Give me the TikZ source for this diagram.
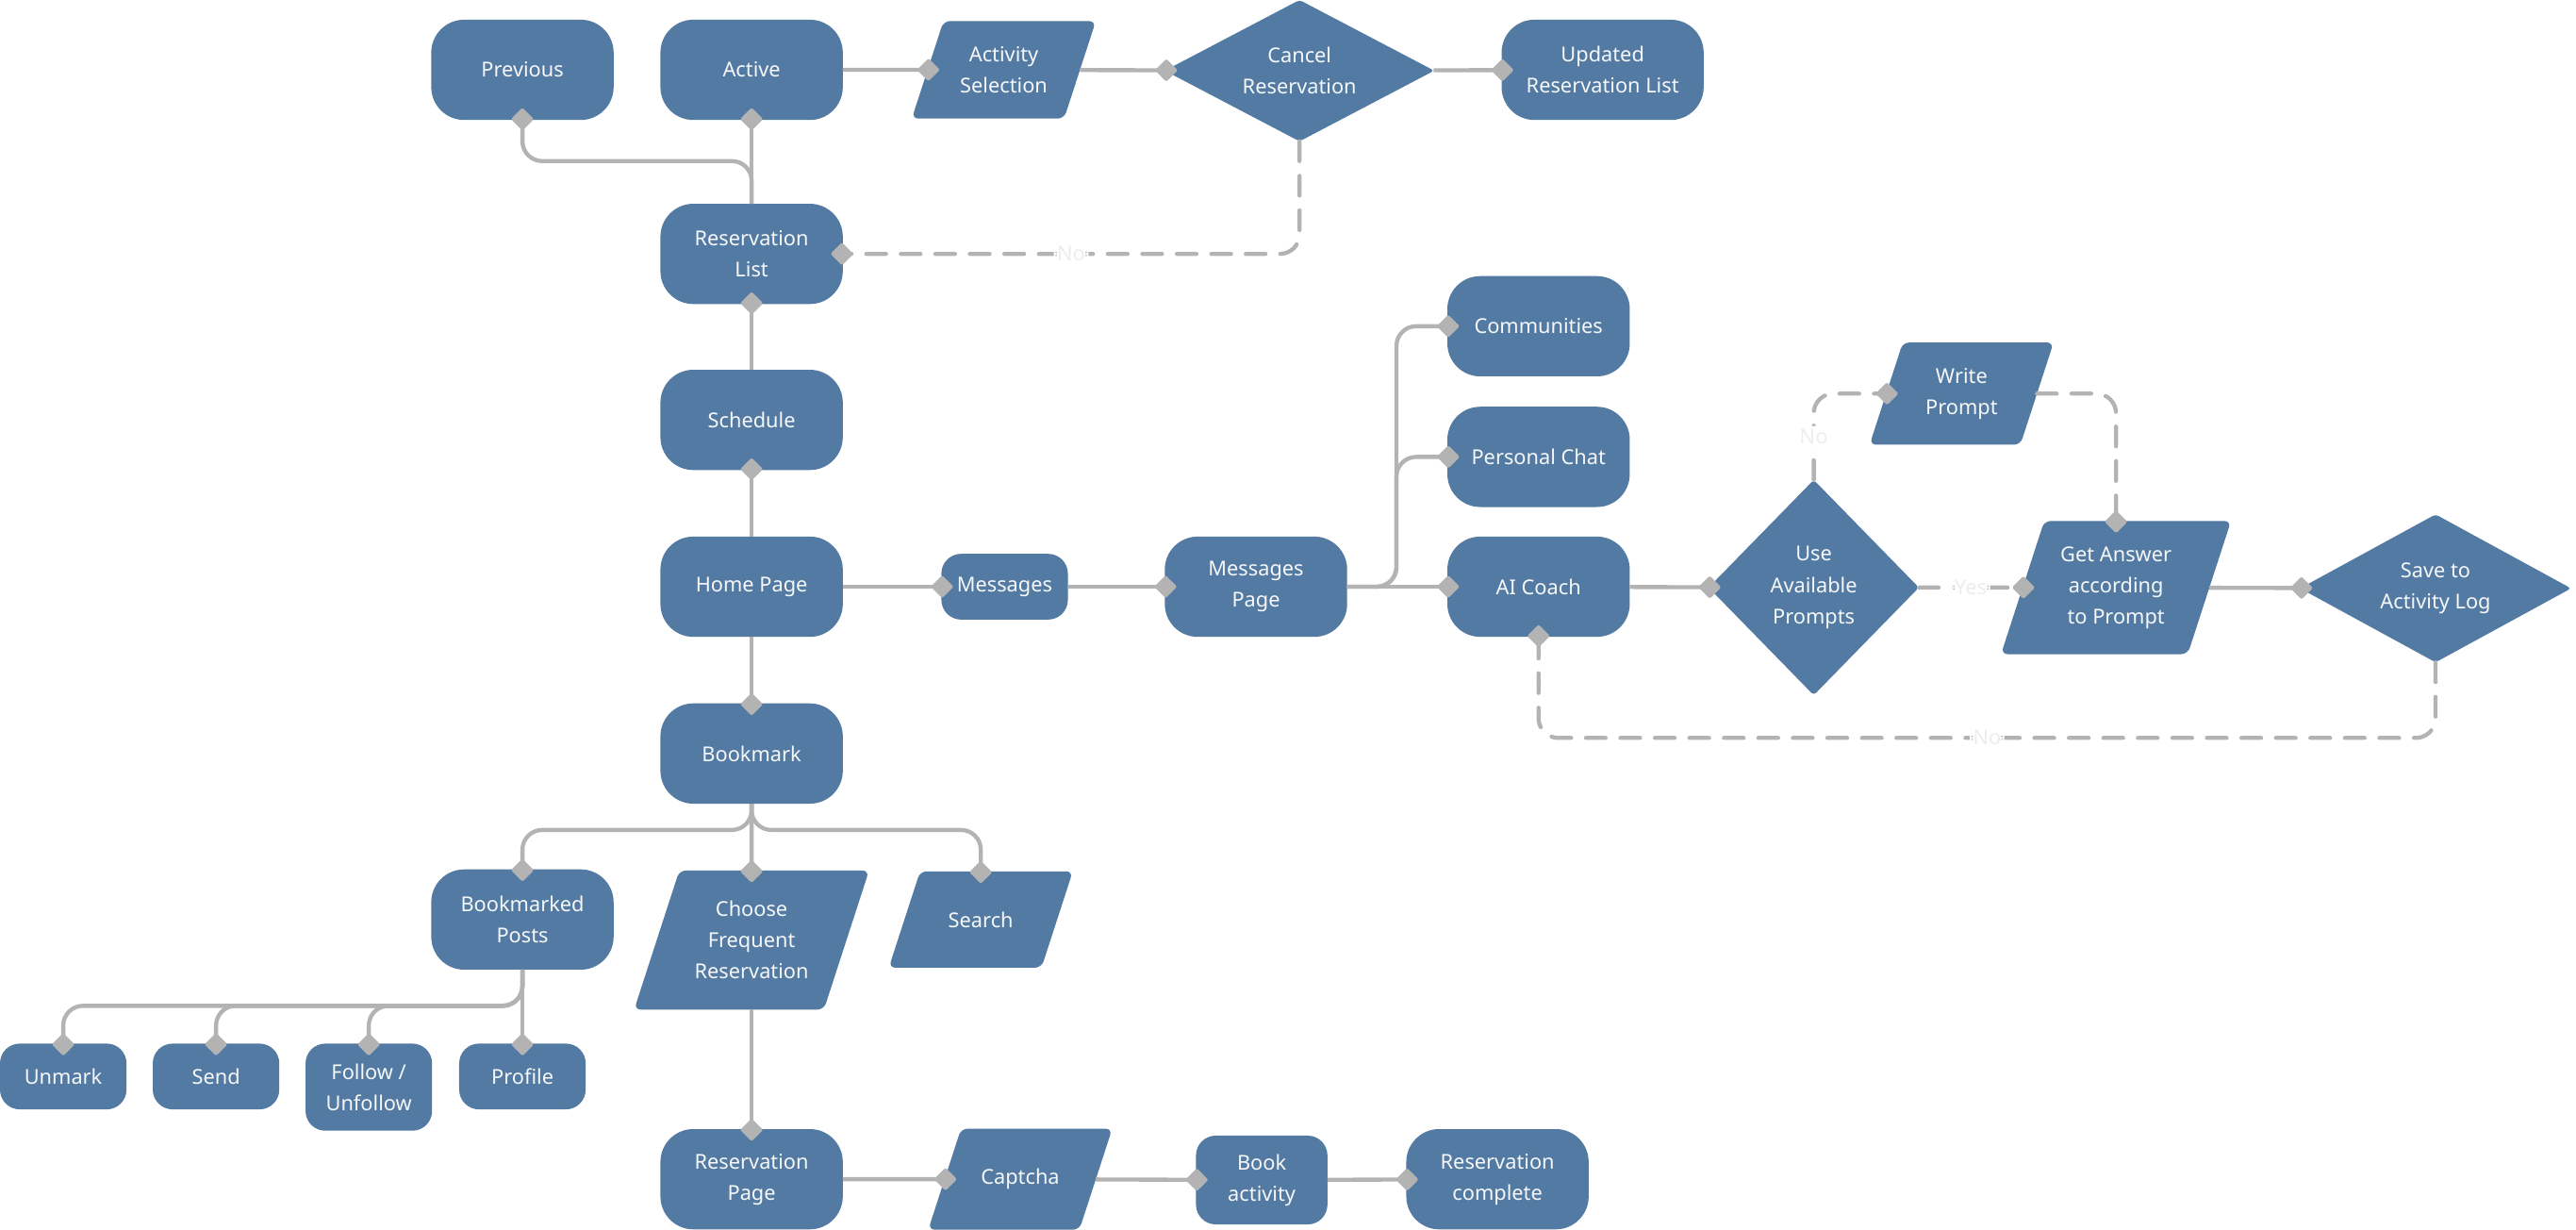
\documentclass[tikz,border=0pt]{standalone}
\usepackage{fontspec}
\setmainfont{Noto Sans}
\usepackage{xcolor}
\usepackage{tikz}
\usetikzlibrary{calc}
\usetikzlibrary{arrows.meta}
\usetikzlibrary{shapes}
\usetikzlibrary{shapes.geometric}
\definecolor{boxblue}{HTML}{537AA2}
\definecolor{linegray}{HTML}{B3B3B3}
\tikzstyle{term} = [rectangle, rounded corners = 20pt, fill = boxblue, text = white!94!boxblue, minimum width = 111pt, minimum height = 61pt, inner sep = 0, outer sep = 0, align = center, font = \fontsize{12.5}{19}\selectfont]
\tikzstyle{smallterm} = [term, rounded corners = 12pt, minimum width = 77pt, minimum height = 40pt]
\tikzstyle{io} = [term, trapezium, rounded corners = 4pt, trapezium left angle = 72, trapezium right angle = 108, trapezium stretches body, minimum width = 112pt, minimum height = 0pt, inner ysep = 15.5pt]
\tikzstyle{decision} = [term, diamond, rounded corners = 2pt, aspect = 1.5]
\tikzstyle{flow} = [draw = linegray, line width = 2.5pt, rounded corners = 12pt, -{Diamond[length = 14pt, width = 14pt, round]}, shorten > = -7pt]
\tikzstyle{loopback} = [dash pattern = on 12pt off 9pt, line cap = round]
\tikzstyle{lbl} = [fill = white, text = black!7, inner sep = 2pt, font = \fontsize{12.5}{15}\selectfont]

\begin{document}
\begin{tikzpicture}[x = 1pt, y = -1pt]
\useasboundingbox (0, 0) rectangle (1568, 748.4);
% reservations
\node [term] (prev) at (318, 42.5) {Previous};
\node [term] (active) at (457.5, 42.5) {Active};
\node [io] (actsel) at (611, 42.5) {Activity\\Selection};
\node [decision, minimum width = 164pt, minimum height = 86pt] (cancel) at (791, 43) {Cancel\\Reservation};
\node [term, minimum width = 123pt] (updated) at (975.5, 42.5) {Updated\\Reservation List};
\node [term] (rlist) at (457.5, 154.5) {Reservation\\List};
\node [term] (sched) at (457.5, 255.5) {Schedule};
\node [term] (home) at (457.5, 357) {Home Page};
% messages and coach
\node [smallterm] (msg) at (611.5, 357) {Messages};
\node [term] (mpage) at (764.5, 357) {Messages\\Page};
\node [term] (comm) at (936.5, 198.5) {Communities};
\node [term] (chat) at (936.5, 278) {Personal Chat};
\node [term] (coach) at (936.5, 357) {AI Coach};
\node [decision, minimum width = 128pt, minimum height = 131pt] (useprompt) at (1104, 357.5) {Use\\Available\\Prompts};
\node [io] (write) at (1194, 239.5) {Write\\Prompt};
\node [io, minimum width = 140pt, inner ysep = 15.5pt] (answer) at (1288, 357.5) {Get Answer\\according\\to Prompt};
\node [decision, minimum width = 165pt, minimum height = 90pt] (save) at (1482.5, 358) {Save to\\Activity Log};
% bookmarks
\node [term] (bm) at (457.5, 458.5) {Bookmark};
\node [term] (bposts) at (318, 559.5) {Bookmarked\\Posts};
\node [io, minimum width = 143pt, inner ysep = 18.5pt] (choose) at (457.5, 572) {Choose\\Frequent\\Reservation};
\node [io, inner ysep = 24.5pt] (search) at (597, 559.5) {Search};
\node [smallterm] (unmark) at (38.5, 655) {Unmark};
\node [smallterm] (send) at (131.5, 655) {Send};
\node [smallterm, minimum height = 53pt] (follow) at (224.5, 661.5) {Follow /\\Unfollow};
\node [smallterm] (profile) at (318, 655) {Profile};
\node [term] (rpage) at (457.5, 717.5) {Reservation\\Page};
\node [io, inner ysep = 24.5pt] (captcha) at (621, 717.5) {Captcha};
\node [smallterm, minimum width = 80pt, minimum height = 54pt] (book) at (768, 718) {Book\\activity};
\node [term] (done) at (911.5, 717.5) {Reservation\\complete};

\draw [flow] (active) -- (actsel);
\draw [flow] (actsel) -- (cancel);
\draw [flow] (cancel) -- (updated);
\draw [flow] (rlist) -- (active);
\draw [flow] (rlist.north) -- ++(0, -26) -| (prev);
\draw [flow, loopback] (cancel.south) |- (rlist.east) node [pos = 0.75, lbl] {No};
\draw [flow] (sched) -- (rlist);
\draw [flow] (home) -- (sched);
\draw [flow] (home) -- (msg);
\draw [flow] (msg) -- (mpage);
\draw [flow] (mpage) -- (coach);
\draw [flow] (mpage.east) -- ++(30, 0) |- (chat);
\draw [flow] (mpage.east) -- ++(30, 0) |- (comm);
\draw [flow] (coach) -- (useprompt);
\draw [flow, loopback] (useprompt.north) |- (write) node [pos = 0.25, lbl] {No};
\draw [flow, loopback] (write) -| (answer);
\draw [flow, loopback] (useprompt) -- (answer) node [midway, lbl] {Yes};
\draw [flow] (answer) -- (save);
\draw [flow, loopback] (save.south) -- ++(0, 46) -| (coach) node [pos = 0.25, lbl] {No};
\draw [flow] (home) -- (bm);
\draw [flow] (bm) -- (choose);
\draw [flow] (bm.south) -- ++(0, 16) -| (bposts);
\draw [flow] (bm.south) -- ++(0, 16) -| (search);
\draw [flow] (bposts) -- (profile);
\foreach \n in {unmark, send, follow}
  \draw [flow] (bposts.south) -- ++(0, 22) -| (\n);
\draw [flow] (choose) -- (rpage);
\draw [flow] (rpage) -- (captcha);
\draw [flow] (captcha) -- (book);
\draw [flow] (book) -- (done);
\end{tikzpicture}
\end{document}
